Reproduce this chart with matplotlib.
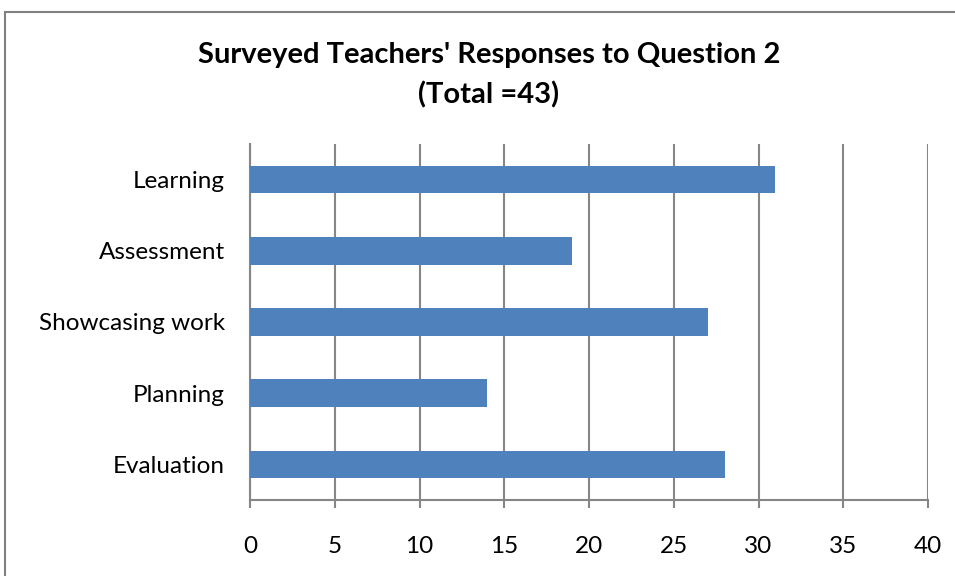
import matplotlib
matplotlib.use("Agg")
import matplotlib.pyplot as plt
from matplotlib.patches import Rectangle

categories = ["Learning", "Assessment", "Showcasing work", "Planning", "Evaluation"]
responses = [31, 19, 27, 14, 28]
x_ticks = [0, 5, 10, 15, 20, 25, 30, 35, 40]
title = "Surveyed Teachers' Responses to Question 2\n(Total =43)"

plt.rcParams['font.family'] = ['Lato', 'DejaVu Sans']

fig = plt.figure(figsize=(9.55, 5.76), dpi=100)
ax = fig.add_axes([250 / 955, 1 - 500 / 576, 678 / 955, 356 / 576])

pos = list(range(len(categories)))
ax.barh(pos, responses, height=0.39, color='#4F81BD', zorder=3)
ax.set_yticks(pos)
ax.set_yticklabels(categories, fontsize=17.5)
ax.set_ylim(len(categories) - 0.5, -0.5)
ax.set_xlim(0, 40)
ax.set_xticks(x_ticks)
ax.set_xticklabels([str(t) for t in x_ticks], fontsize=17.5)

ax.grid(axis='x', color='#868686', linewidth=1.5, zorder=0)
for s in ['top', 'right']:
    ax.spines[s].set_visible(False)
for s in ['left', 'bottom']:
    ax.spines[s].set_color('#868686')
    ax.spines[s].set_linewidth(1.5)
ax.tick_params(axis='x', length=6, width=1.5, color='#868686', pad=20)
ax.tick_params(axis='y', length=0, pad=18)

fig.text(0.512, 1 - 75 / 576, title, ha='center', va='center',
         fontsize=21, fontweight='bold', linespacing=1.6)

# outer chart border (cropped at right and bottom)
fig.patches.append(Rectangle((5 / 955, -0.1), 1.2, 1 - 12 / 576 + 0.1,
                             transform=fig.transFigure, fill=False,
                             edgecolor='#808080', linewidth=1.5))

fig.savefig("out.png", dpi=100)
